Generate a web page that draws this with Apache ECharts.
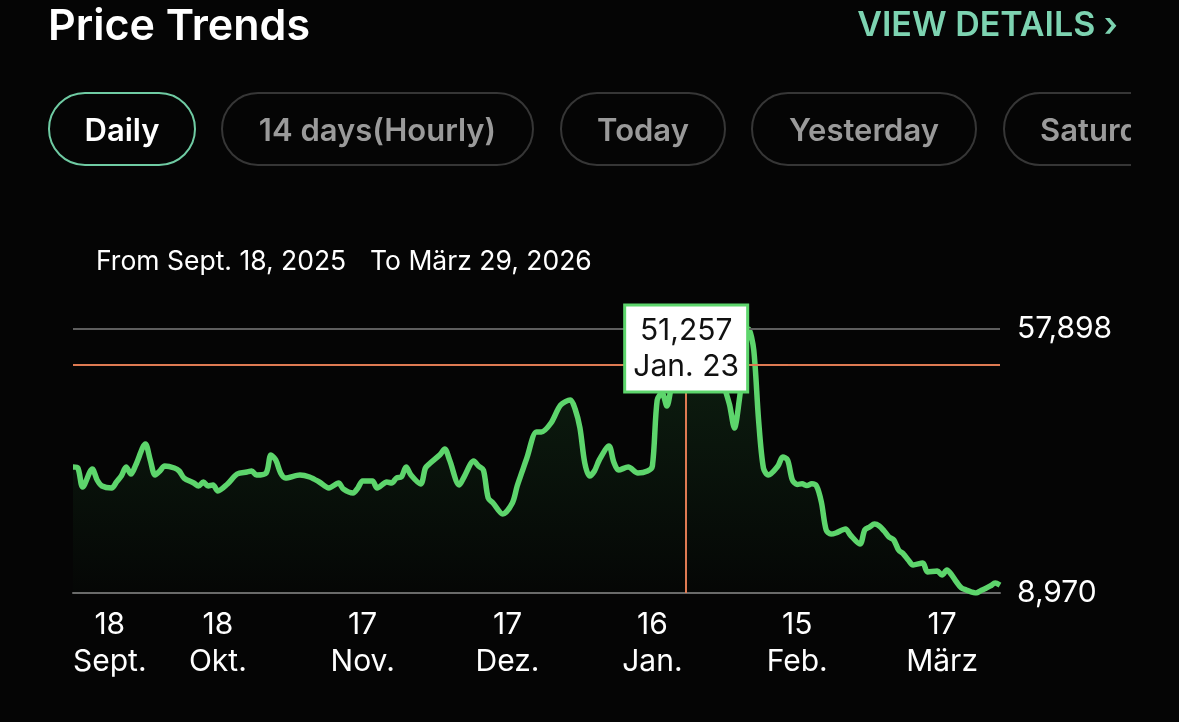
<!DOCTYPE html>
<html>
<head>
<meta charset="utf-8">
<title>Price Trends</title>
<script src="https://cdn.jsdelivr.net/npm/echarts@6/dist/echarts.min.js"></script>
<style>
  html, body { margin: 0; padding: 0; background: #050505; }
  body { width: 1179px; height: 722px; overflow: hidden; position: relative; font-family: Inter, "Open Sans", sans-serif; }
  #chart { position: absolute; left: 0; top: 0; width: 1179px; height: 722px; }
  .title { position: absolute; left: 48px; top: -1px; font-size: 43px; line-height: 50px; font-weight: 600; color: #fff; }
  .details { position: absolute; right: 61px; top: 3px; font-size: 34px; line-height: 42px; font-weight: 600; color: #7dd3b1; }
  .tabs { position: absolute; left: 0; top: 91px; width: 1131px; height: 77px; overflow: hidden; }
  .tab { position: absolute; top: 1px; height: 74px; box-sizing: border-box; border: 2px solid #363636; border-radius: 37px;
         color: #9a9a9a; font-size: 31px; font-weight: 600; display: flex; align-items: center; justify-content: center; white-space: nowrap; }
  .tab.active { border-color: #6fcba3; color: #fff; }
</style>
</head>
<body>
<div id="chart"></div>
<div class="title">Price Trends</div>
<div class="details">VIEW DETAILS &#8250;</div>
<div class="tabs">
  <div class="tab active" style="left:48px;width:148px">Daily</div>
  <div class="tab" style="left:221px;width:313px">14 days(Hourly)</div>
  <div class="tab" style="left:560px;width:166px">Today</div>
  <div class="tab" style="left:751px;width:226px">Yesterday</div>
  <div class="tab" style="left:1003px;width:200px;justify-content:flex-start;padding-left:35px">Saturday</div>
</div>
<script>
// days since Sept. 18, 2025
const dayOffsets = [
  0, 1, 2, 4, 5, 6, 8, 9, 10, 11, 12, 13, 15, 16, 17, 18, 19, 21, 22, 23,
  25, 26, 27, 28, 29, 30, 32, 34, 36, 37, 38, 40, 41, 42, 43, 44, 47, 49, 51, 53,
  55, 56, 58, 59, 60, 62, 63, 65, 66, 67, 68, 69, 70, 72, 73, 74, 76, 77, 78, 80,
  81, 83, 84, 85, 86, 87, 89, 91, 92, 93, 94, 96, 97, 99, 101, 103, 104, 105, 106, 107,
  108, 109, 111, 112, 113, 115, 117, 119, 120, 121, 122, 123, 124, 125, 126, 127, 128, 129, 130, 131,
  132, 133, 134, 135, 136, 137, 138, 139, 140, 141, 142, 143, 144, 146, 147, 148, 149, 150, 151, 152,
  153, 154, 155, 156, 157, 158, 160, 161, 163, 164, 165, 166, 167, 168, 169, 170, 171, 172, 173, 174,
  176, 177, 179, 180, 181, 182, 183, 184, 185, 186, 187, 188, 189, 190, 191, 192
];
const prices = [
  32320, 32140, 28620, 31950, 29910, 28800, 28430, 29540, 30650, 32320, 31020, 32690, 36580, 33620, 30840, 31580, 32510, 32140, 31580, 30280,
  29360, 28800, 29540, 28800, 28990, 27870, 29170, 31020, 31400, 31580, 30840, 31210, 34550, 33620, 31210, 30280, 30840, 30470, 29540, 28430,
  29360, 28240, 27500, 28430, 29730, 29730, 28430, 29540, 29360, 30280, 30470, 32320, 30840, 29170, 32140, 33060, 34600, 35660, 33620, 28990,
  30470, 33430, 32510, 31770, 26580, 25650, 23610, 25650, 28800, 31400, 34000, 38810, 38810, 40480, 43810, 44740, 43070, 39550, 33060, 30650,
  31580, 33620, 36210, 33250, 31770, 32320, 31210, 31580, 32500, 44740, 46040, 43630, 47500, 50300, 49500, 51257, 52500, 53800, 52000, 50800,
  52800, 54000, 51500, 47000, 43810, 39550, 44740, 52150, 57898, 54000, 41000, 32140, 30840, 32510, 34180, 33620, 29910, 29100, 29200, 28900,
  29200, 28800, 25840, 20650, 19900, 20090, 20830, 19720, 18050, 20650, 21200, 21750, 21390, 20460, 19350, 18790, 16940, 16200, 15090, 14160,
  14530, 12860, 13050, 12310, 13230, 12310, 11010, 9900, 9530, 9200, 8970, 9400, 9800, 10270, 10820, 10450
];
const tickDays = ['18', '18', '17', '17', '16', '15', '17'];
const tickMonths = ['Sept.', 'Okt.', 'Nov.', 'Dez.', 'Jan.', 'Feb.', 'März'];
const lastDay = 192;
const yMin = 8970;
const yMax = 57898;
const selectedDay = 127;
const selectedValue = 51257;
const selectedLabel = 'Jan. 23';

const labelFont = 'Inter, "Noto Sans", sans-serif';
const green = '#5dd56c';

const rangeTexts = [
  {type: 'text', left: 96, top: 249, style: {text: 'From Sept. 18, 2025', fill: '#fff', font: '26.5px ' + labelFont}},
  {type: 'text', left: 370, top: 249, style: {text: 'To März 29, 2026', fill: '#fff', font: '26.5px ' + labelFont}},
];

const chart = echarts.init(document.getElementById('chart'), null, {renderer: 'canvas'});

chart.setOption({
  animation: false,
  backgroundColor: 'transparent',
  grid: {left: 73, right: 179, top: 329, bottom: 129},
  graphic: rangeTexts,
  xAxis: {
    type: 'value',
    min: 0,
    max: lastDay,
    interval: 30,
    splitLine: {show: false},
    axisTick: {show: false},
    axisLine: {lineStyle: {color: '#6a6a6a', width: 2}},
    axisLabel: {
      margin: 13,
      showMaxLabel: false,
      alignMinLabel: 'left',
      formatter: (v) => {
        if (v % 30 !== 0) return '';
        const i = v / 30;
        return '{a|' + tickDays[i] + '}\n{a|' + tickMonths[i] + '}';
      },
      rich: {a: {align: 'center', color: '#fff', fontSize: 30, lineHeight: 37, fontFamily: labelFont}},
    },
  },
  yAxis: {
    type: 'value',
    position: 'right',
    min: yMin,
    max: yMax,
    splitLine: {show: false},
    axisLine: {show: false},
    axisTick: {show: false},
    axisLabel: {
      margin: 17,
      showMinLabel: true,
      showMaxLabel: true,
      color: '#fff',
      fontSize: 30,
      fontFamily: labelFont,
      formatter: (v) => (v === yMin || v === yMax ? v.toLocaleString('en-US') : ''),
    },
  },
  series: [{
    type: 'line',
    data: dayOffsets.map((d, i) => [d, prices[i]]),
    smooth: 0.3,
    showSymbol: false,
    lineStyle: {color: green, width: 5.5},
    areaStyle: {
      origin: 'start',
      color: new echarts.graphic.LinearGradient(0, 0, 0, 1, [
        {offset: 0, color: 'rgba(60, 170, 80, 0.24)'},
        {offset: 1, color: 'rgba(60, 170, 80, 0.02)'},
      ]),
    },
    markLine: {
      silent: true,
      symbol: 'none',
      label: {show: false},
      data: [
        {yAxis: yMax, lineStyle: {color: '#5e5e5e', width: 2, type: 'solid'}},
        {yAxis: selectedValue, lineStyle: {color: '#de7a52', width: 2, type: 'solid'}},
        {xAxis: selectedDay, lineStyle: {color: '#de7a52', width: 2, type: 'solid'}},
      ],
    },
  }],
});

// tooltip box fixed above the selected day
const px = chart.convertToPixel({xAxisIndex: 0, yAxisIndex: 0}, [selectedDay, yMax]);
const boxW = 123, boxH = 87;
chart.setOption({
  graphic: rangeTexts.concat([{
    type: 'group',
    z: 100,
    children: [
      {type: 'rect', z: 100, shape: {x: px[0] - boxW / 2, y: px[1] - 24, width: boxW, height: boxH},
        style: {fill: '#fff', stroke: green, lineWidth: 3}},
      {type: 'text', z: 101, x: px[0], y: px[1] + 2,
        style: {text: selectedValue.toLocaleString('en-US'), fill: '#111', font: '30px ' + labelFont, align: 'center', verticalAlign: 'middle'}},
      {type: 'text', z: 101, x: px[0], y: px[1] + 38,
        style: {text: selectedLabel, fill: '#111', font: '30px ' + labelFont, align: 'center', verticalAlign: 'middle'}},
    ],
  }]),
});
</script>
</body>
</html>
